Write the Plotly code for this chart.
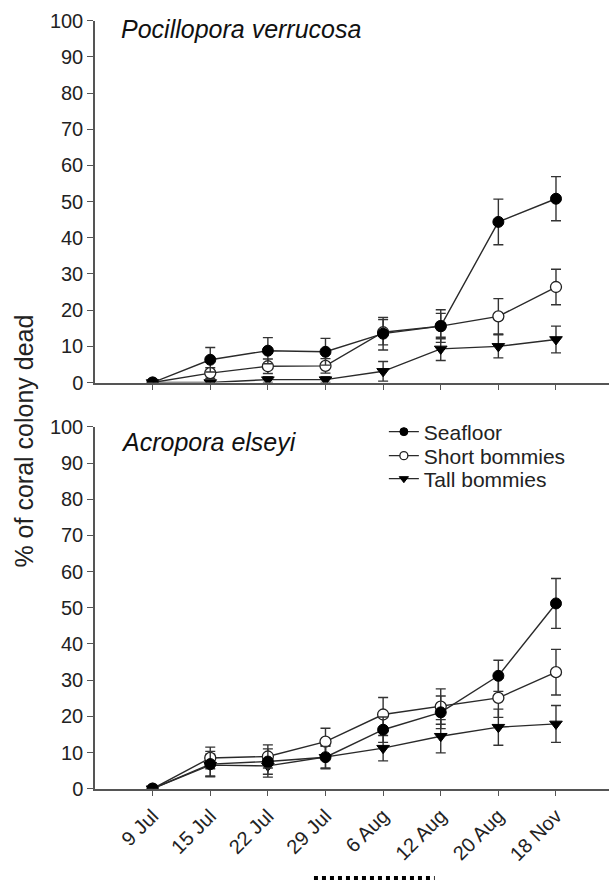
import plotly.graph_objects as go

dates = ["9 Jul", "15 Jul", "22 Jul", "29 Jul", "6 Aug", "12 Aug", "20 Aug", "18 Nov"]
y_ticks = [0, 10, 20, 30, 40, 50, 60, 70, 80, 90, 100]

# Pocillopora verrucosa (top panel)
poc_seafloor = [0, 6.3, 8.8, 8.5, 13.5, 15.6, 44.4, 50.8]
poc_seafloor_err = [0, 3.4, 3.6, 3.7, 4.5, 4.5, 6.3, 6.1]
poc_short = [0, 2.6, 4.5, 4.6, 13.9, 15.6, 18.3, 26.4]
poc_short_err = [0, 1.5, 2.0, 2.0, 3.5, 3.5, 4.9, 4.9]
poc_tall = [0, 0, 0.8, 0.8, 3.1, 9.3, 10.0, 11.9]
poc_tall_err = [0, 0.3, 0.8, 0.8, 2.7, 3.2, 3.2, 3.7]

# Acropora elseyi (bottom panel)
acr_seafloor = [0, 6.8, 7.5, 8.7, 16.3, 21.1, 31.2, 51.2]
acr_seafloor_err = [0, 3.5, 3.5, 3.0, 3.5, 4.5, 4.3, 6.9]
acr_short = [0, 8.5, 8.9, 13.0, 20.5, 22.7, 25.1, 32.2]
acr_short_err = [0, 3.0, 3.2, 3.7, 4.7, 4.9, 5.4, 6.3]
acr_tall = [0, 6.5, 6.3, 8.7, 11.2, 14.5, 17.0, 17.9]
acr_tall_err = [0, 3.0, 3.1, 3.2, 3.5, 4.6, 5.0, 5.1]

series_names = ["Seafloor", "Short bommies", "Tall bommies"]

FONT = "Arial, Liberation Sans, sans-serif"
LINE = "#2a2a2a"
AXC = "#555555"

def marker(name, size):
    if name == "Seafloor":
        return dict(symbol="circle", size=size, color="black", line=dict(color="black", width=1))
    if name == "Short bommies":
        return dict(symbol="circle", size=size, color="white", line=dict(color="#222", width=1.3))
    return dict(symbol="triangle-down", size=size, color="black", line=dict(color="black", width=1))

legend_ids = {"Seafloor": "legend", "Short bommies": "legend2", "Tall bommies": "legend3"}

fig = go.Figure()

panels = [
    ("x", "y", [poc_tall, poc_short, poc_seafloor], [poc_tall_err, poc_short_err, poc_seafloor_err]),
    ("x2", "y2", [acr_tall, acr_short, acr_seafloor], [acr_tall_err, acr_short_err, acr_seafloor_err]),
]
order = ["Tall bommies", "Short bommies", "Seafloor"]
for xa, ya, vals, errs in panels:
    for name, v, e in zip(order, vals, errs):
        fig.add_trace(go.Scatter(
            x=dates, y=v, name=name, xaxis=xa, yaxis=ya,
            mode="lines+markers",
            line=dict(color=LINE, width=1.4),
            marker=marker(name, 11),
            error_y=dict(type="data", array=e, visible=True, color="#333", thickness=1.4, width=5),
            showlegend=False,
        ))

# legend-only entries (smaller symbols, as in the original key)
for name in series_names:
    fig.add_trace(go.Scatter(
        x=[None], y=[None], name=name, xaxis="x2", yaxis="y2",
        mode="lines+markers", line=dict(color=LINE, width=1.4),
        marker=marker(name, 8), showlegend=True, legend=legend_ids[name],
    ))

xcommon = dict(
    type="category", categoryorder="array", categoryarray=dates,
    range=[-1, 7.92], showline=True, linecolor=AXC, linewidth=1.5,
    ticks="outside", ticklen=6, tickcolor=AXC, tickwidth=1.3,
    showgrid=False, zeroline=False, automargin=False,
    tickfont=dict(family=FONT, size=20, color="#222"),
)
ycommon = dict(
    range=[0, 100], tickvals=y_ticks, showline=True, linecolor=AXC, linewidth=1.5,
    ticks="outside", ticklen=6, tickcolor=AXC, tickwidth=1.3,
    showgrid=False, zeroline=False, automargin=False,
    tickfont=dict(family=FONT, size=20, color="#222"),
)

leg_common = dict(x=0.562, xanchor="left", yanchor="middle",
                  font=dict(family=FONT, size=21, color="#222"),
                  bgcolor="rgba(0,0,0,0)", itemwidth=30)

fig.update_layout(
    width=609, height=882,
    margin=dict(l=95, r=0, t=0, b=0, autoexpand=False),
    paper_bgcolor="white", plot_bgcolor="white",
    xaxis=dict(xcommon, domain=[0, 1], anchor="y", showticklabels=False),
    yaxis=dict(ycommon, domain=[0.5663, 0.9765], anchor="x"),
    xaxis2=dict(xcommon, domain=[0, 1], anchor="y2", tickangle=-45),
    yaxis2=dict(ycommon, domain=[0.1058, 0.516], anchor="x2"),
    legend=dict(leg_common, y=0.5102),
    legend2=dict(leg_common, y=0.4830),
    legend3=dict(leg_common, y=0.4569),
    showlegend=True,
)

fig.add_annotation(text="<i>Pocillopora verrucosa</i>", xref="paper", yref="paper",
                   x=0.046, y=0.9675, xanchor="left", yanchor="middle", showarrow=False,
                   font=dict(family=FONT, size=25, color="#111"))
fig.add_annotation(text="<i>Acropora elseyi</i>", xref="paper", yref="paper",
                   x=0.046, y=0.4994, xanchor="left", yanchor="middle", showarrow=False,
                   font=dict(family=FONT, size=25, color="#111"))
fig.add_annotation(text="% of coral colony dead", xref="paper", yref="paper",
                   x=-0.139, y=0.500, xanchor="center", yanchor="middle", showarrow=False,
                   textangle=-90, borderpad=0, font=dict(family=FONT, size=25, color="#222"))

fig.add_shape(type="line", xref="paper", yref="paper", x0=0.426, x1=0.661, y0=0.0046, y1=0.0046,
              line=dict(color="black", width=4, dash="dot"))

fig.write_html("out.html", config={"displayModeBar": False},
               post_script="document.body.style.margin='0';document.body.style.overflow='hidden';")
